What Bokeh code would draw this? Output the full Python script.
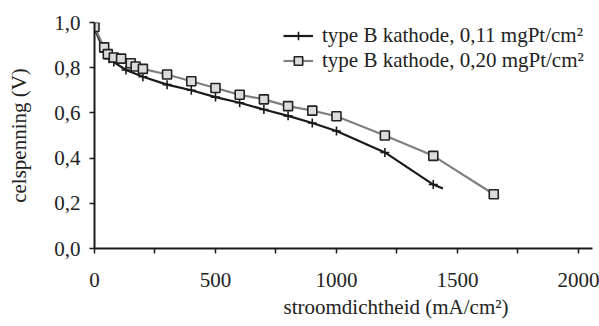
from bokeh.plotting import figure
from bokeh.models import Range1d, FixedTicker, Legend, LegendItem, Title
from bokeh.embed import file_html
from bokeh.resources import INLINE

# Data
black_x = [0, 40, 60, 80, 130, 200, 300, 400, 500, 600, 700, 800, 900, 1000, 1200, 1400, 1440]
black_y = [0.975, 0.87, 0.84, 0.825, 0.79, 0.76, 0.725, 0.70, 0.67, 0.645, 0.615, 0.587, 0.555, 0.52, 0.425, 0.283, 0.265]
grey_x = [0, 40, 55, 80, 110, 150, 170, 200, 300, 400, 500, 600, 700, 800, 900, 1000, 1200, 1400, 1650]
grey_y = [0.98, 0.89, 0.86, 0.845, 0.84, 0.82, 0.805, 0.795, 0.77, 0.74, 0.71, 0.68, 0.66, 0.63, 0.61, 0.585, 0.50, 0.41, 0.24]
series_labels = ["type B kathode, 0,11 mgPt/cm\u00b2", "type B kathode, 0,20 mgPt/cm\u00b2"]
x_ticks = [0, 250, 500, 750, 1000, 1250, 1500, 1750, 2000]
y_ticks = [0.0, 0.2, 0.4, 0.6, 0.8, 1.0]
y_tick_labels = ["0,0", "0,2", "0,4", "0,6", "0,8", "1,0"]
x_label = "stroomdichtheid (mA/cm\u00b2)"
y_label = "celspenning (V)"

FONT = "Liberation Serif"
FS = "21px"
TXT = "#222222"

p = figure(width=599, height=326, output_backend="svg", toolbar_location=None,
           x_range=Range1d(0, 2058), y_range=Range1d(0, 1.0),
           min_border_left=94, min_border_right=7, min_border_top=22, min_border_bottom=78)
p.outline_line_color = None
p.xgrid.grid_line_color = None
p.ygrid.grid_line_color = None
p.background_fill_color = "white"
p.border_fill_color = "white"

for ax in (p.xaxis[0], p.yaxis[0]):
    ax.axis_line_width = 2
    ax.axis_line_color = "#1a1a1a"
    ax.major_tick_line_color = "#1a1a1a"
    ax.major_tick_line_width = 1.5
    ax.major_tick_out = 5
    ax.major_tick_in = 0
    ax.minor_tick_line_color = None
    ax.major_label_text_font = FONT
    ax.major_label_text_font_size = FS
    ax.major_label_text_color = TXT
    ax.axis_label_text_font = FONT
    ax.axis_label_text_font_size = FS
    ax.axis_label_text_font_style = "normal"
    ax.axis_label_text_color = TXT

p.xaxis.ticker = FixedTicker(ticks=x_ticks)
p.xaxis.major_label_overrides = {t: (str(t) if t % 500 == 0 else "") for t in x_ticks}
p.xaxis.major_label_standoff = 19
p.yaxis.ticker = FixedTicker(ticks=y_ticks)
p.yaxis.major_label_overrides = {t: l for t, l in zip(y_ticks, y_tick_labels)}
p.yaxis.major_label_standoff = 9
p.yaxis.axis_label = y_label
p.yaxis.axis_label_standoff = 20

r1l = p.line(black_x, black_y, line_color="#1a1a1a", line_width=2.2)
r1m = p.scatter(black_x[:-1], black_y[:-1], marker="cross", size=9, line_color="#1a1a1a", line_width=1.6)
r2l = p.line(grey_x, grey_y, line_color="#808080", line_width=2.2)
r2m = p.scatter(grey_x, grey_y, marker="square", size=9, fill_color="#dcdcdc", line_color="#222222", line_width=1.6)

legend = Legend(items=[LegendItem(label=series_labels[0], renderers=[r1l, r1m]),
                       LegendItem(label=series_labels[1], renderers=[r2l, r2m])],
                location=(189, 175), border_line_color=None, background_fill_alpha=0,
                label_text_font=FONT, label_text_font_size=FS, label_text_color=TXT,
                glyph_width=30, label_height=21, glyph_height=21, spacing=0, padding=0, margin=0,
                label_standoff=9)
p.add_layout(legend, "center")

t = Title(text=x_label, align="left", offset=189, text_font=FONT, text_font_size=FS,
          text_font_style="normal", text_color=TXT, standoff=7)
p.add_layout(t, "below")

open("out.html", "w").write(file_html(p, INLINE))
